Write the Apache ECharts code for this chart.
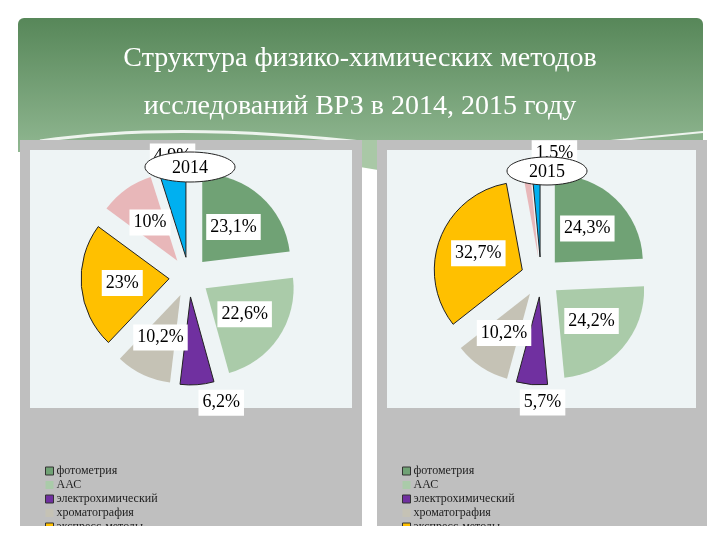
<!DOCTYPE html>
<html><head><meta charset="utf-8">
<script src="https://cdn.jsdelivr.net/npm/echarts@6/dist/echarts.min.js"></script>
<style>html,body{margin:0;padding:0;background:#fff}#c{width:720px;height:540px}</style>
</head><body><div id="c"></div>
<script>
const categories = ['фотометрия', 'ААС', 'электрохимический', 'хроматография', 'экспресс-методы', 'прочие', 'ИК-спектрометрия'];
const values2014 = [23.1, 22.6, 6.2, 10.2, 23, 10, 4.9];
const values2015 = [24.3, 24.2, 5.7, 10.2, 32.7, 1.4, 1.5];
const years = ['2014', '2015'];
const titleText = 'Структура физико-химических методов\nисследований ВРЗ в 2014, 2015 году';

const colors = ['#70a275', '#aacba9', '#7030a0', '#c5c2b5', '#ffc000', '#e8b7b9', '#00b0f0'];
const bordered = [false, false, true, false, true, false, true];
const serif = 'Liberation Serif';

const fmt = p => String(p.value).replace('.', ',') + '%';

function buildData(vals, outsideCfg) {
  return categories.map((name, i) => {
    const d = {
      name, value: vals[i], selected: true,
      itemStyle: { color: colors[i], borderColor: bordered[i] ? '#222' : 'rgba(0,0,0,0)', borderWidth: bordered[i] ? 1 : 0 }
    };
    if (outsideCfg[i]) {
      const c = outsideCfg[i];
      if (c.hide) { d.label = { show: false }; }
      else {
        d.label = { position: 'outside' };
        d.labelLine = { show: false, length: c.len, length2: c.len2 };
      }
    }
    return d;
  });
}

const labelStyle = {
  show: true, position: 'inside', formatter: fmt,
  fontFamily: serif, fontSize: 18, color: '#000',
  backgroundColor: '#fff', padding: [4, 4]
};

function pieSeries(vals, center, outsideCfg) {
  return {
    type: 'pie', radius: 88, center, startAngle: 90, clockwise: true,
    selectedMode: 'multiple', selectedOffset: 20, avoidLabelOverlap: false,
    label: labelStyle, labelLine: { show: false },
    emphasis: { disabled: true },
    data: buildData(vals, outsideCfg)
  };
}

const legendItemData = categories.map((name, i) => ({
  name, itemStyle: { color: colors[i], borderColor: (i === 1 || i === 3) ? 'rgba(0,0,0,0)' : '#333', borderWidth: 1 }
}));

function legend(left) {
  return {
    orient: 'vertical', left, top: 460, height: 200, itemWidth: 8, itemHeight: 8, itemGap: 2,
    icon: 'rect', selectedMode: false, data: legendItemData,
    textStyle: { fontFamily: serif, fontSize: 12, lineHeight: 12, color: '#222', padding: [0, 0, 0, -2] }
  };
}

const chart = echarts.init(document.getElementById('c'), null, { renderer: 'canvas' });
chart.setOption({
  animation: false,
  backgroundColor: '#fff',
  title: {
    text: titleText, left: 'center', top: 30,
    textStyle: { fontFamily: serif, fontSize: 28, lineHeight: 48, color: '#fff', fontWeight: 'normal' }
  },
  legend: [legend(40), legend(397)],
  graphic: [
    { type: 'rect', z: -10, shape: { x: 18, y: 18, width: 685, height: 134, r: [6, 6, 0, 0] },
      style: { fill: new echarts.graphic.LinearGradient(0, 0, 0, 1, [{ offset: 0, color: '#578759' }, { offset: 1, color: '#90b791' }]) } },
    { type: 'bezierCurve', z: -9, shape: { x1: 40, y1: 141, cpx1: 140, cpy1: 126, cpx2: 260, cpy2: 130, x2: 380, y2: 144 },
      style: { stroke: '#eef4ee', lineWidth: 3, fill: null } },
    { type: 'bezierCurve', z: -9, shape: { x1: 600, y1: 142, cpx1: 640, cpy1: 138, cpx2: 680, cpy2: 134, x2: 703, y2: 132 },
      style: { stroke: '#eef4ee', lineWidth: 2, fill: null } },
    { type: 'polygon', z: -9, shape: { points: [[360, 140], [378, 140], [378, 170], [360, 167]] }, style: { fill: '#a9c8a6' } },
    { type: 'rect', z: -8, shape: { x: 20, y: 140, width: 342, height: 400 }, style: { fill: '#bfbfbf' } },
    { type: 'rect', z: -8, shape: { x: 377, y: 140, width: 330, height: 400 }, style: { fill: '#bfbfbf' } },
    { type: 'rect', z: -7, shape: { x: 30, y: 150, width: 322, height: 258 }, style: { fill: '#eef4f5' } },
    { type: 'rect', z: -7, shape: { x: 387, y: 150, width: 309, height: 258 }, style: { fill: '#eef4f5' } },
    { type: 'ellipse', z: 100, shape: { cx: 190, cy: 167, rx: 45, ry: 15 }, style: { fill: '#fff', stroke: '#222', lineWidth: 1 } },
    { type: 'text', z: 101, x: 190, y: 168, style: { text: years[0], font: '18px "Liberation Serif"', fill: '#000', align: 'center', verticalAlign: 'middle' } },
    { type: 'ellipse', z: 100, shape: { cx: 547, cy: 171, rx: 40, ry: 14 }, style: { fill: '#fff', stroke: '#222', lineWidth: 1 } },
    { type: 'text', z: 101, x: 547, y: 172, style: { text: years[1], font: '18px "Liberation Serif"', fill: '#000', align: 'center', verticalAlign: 'middle' } },
    { type: 'rect', z: 100, shape: { x: 0, y: 526, width: 720, height: 14 }, style: { fill: '#fff' } }
  ],
  series: [
    pieSeries(values2014, [189, 277], { 2: { len: 18, len2: -5 }, 6: { len: 14, len2: -30 } }),
    pieSeries(values2015, [541, 277], { 2: { len: 18, len2: -40 }, 5: { hide: true }, 6: { len: 16, len2: -47 } })
  ]
});
</script>
</body></html>
